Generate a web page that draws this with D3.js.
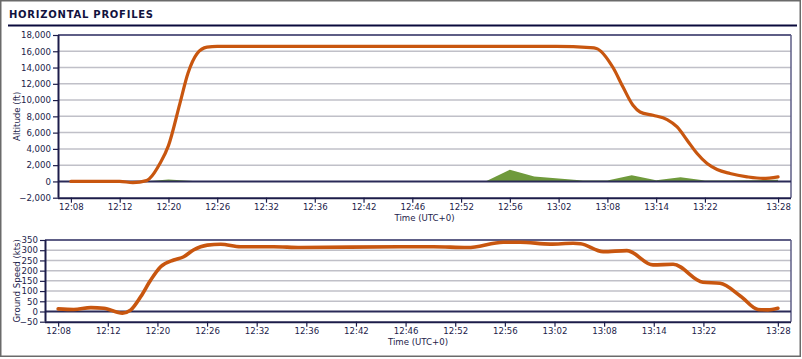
<!DOCTYPE html>
<html><head><meta charset="utf-8">
<script src="https://cdn.jsdelivr.net/npm/d3@7"></script>
<style>
html,body{margin:0;padding:0;background:#fff;}
svg{display:block;font-family:"DejaVu Sans",Verdana,sans-serif;}
</style></head>
<body><svg id="c" width="802" height="359"></svg>
<script>
// x positions are sample indices along the time axis (labels every 2 samples, last after 3)
const timeLabels = ["12:08","12:12","12:20","12:26","12:32","12:36","12:42","12:46","12:52","12:56","13:02","13:08","13:14","13:22","13:28"];
const tickIndex = [0,2,4,6,8,10,12,14,16,18,20,22,24,26,29];

const altIndex  = [0,2,2.54,3.1,3.24,3.65,4,4.47,4.8,5.17,5.58,6,19.9,21.3,21.55,22.23,22.64,23.05,23.34,23.87,24.45,24.86,25.27,25.68,26.09,26.5,27.03,27.73,28.38,29];
const altValues = [0,0,-150,100,400,2200,4400,9600,13300,15700,16500,16600,16600,16450,16350,14000,11600,9360,8540,8130,7600,6700,5070,3430,2200,1470,980,570,370,560];

const terrainIndex  = [0,3,4,5,6,17,18,19,20,21,22,23,24,25,26,27,28,29];
const terrainValues = [0,0,250,50,0,0,1450,600,350,100,100,750,150,500,100,100,150,200];

const spdIndex  = [0,0.63,1.32,1.84,2.59,2.93,3.33,3.73,4.13,4.66,5.06,5.45,6.01,6.55,7.35,8.68,9.77,13.79,15.12,16.49,17.94,18.62,19.83,20.75,21.05,21.96,22.92,23.97,24.78,25.98,26.67,27.5,28.2,28.6,29];
const spdValues = [13,10,19,16,-8,8,73,154,219,252,268,301,325,329,317,317,313,317,317,313,339,339,330,334,332,293,298,228,231,143,138,75,10,8,16];

const altTicks = [-2000,0,2000,4000,6000,8000,10000,12000,14000,16000,18000];
const spdTicks = [-50,0,50,100,150,200,250,300,350];

const svg = d3.select("#c");
const navy = "#1c1c4a", frameCol = "#5e5e86", gridCol = "#c0c0c8", lineCol = "#c8560f", green = "#6f9a3c";

svg.append("rect").attr("x",0.75).attr("y",0.75).attr("width",799.5).attr("height",355.5)
  .attr("fill","#fff").attr("stroke","#6a6a6a").attr("stroke-width",1.5);
svg.append("text").attr("x",9).attr("y",17.5).attr("font-size",10).attr("font-weight","bold")
  .attr("letter-spacing",0.75).attr("fill","#12123e").text("HORIZONTAL PROFILES");
svg.append("line").attr("x1",8).attr("x2",797).attr("y1",25.5).attr("y2",25.5)
  .attr("stroke","#0a0a3c").attr("stroke-width",2.2);

function panel(o){
  const x = d3.scaleLinear().domain([-0.53,29.53]).range([o.left,o.right]);
  const y = d3.scaleLinear().domain(o.domain).range([o.bottom,o.top]);
  const g = svg.append("g");
  g.selectAll(".grid").data(o.ticks.filter(t=>t!==o.domain[0] && t!==o.domain[1] && t!==0)).join("line")
    .attr("x1",o.left).attr("x2",o.right).attr("y1",d=>y(d)).attr("y2",d=>y(d))
    .attr("stroke",gridCol).attr("stroke-width",1.5);
  if(o.areaIdx){
    const pts = o.areaIdx.map((d,i)=>[d,o.areaVals[i]]);
    const area = d3.area().x(d=>x(d[0])).y0(y(0)).y1(d=>y(d[1]));
    g.append("path").datum(pts).attr("d",area).attr("fill",green);
  }
  g.append("line").attr("x1",o.left).attr("x2",o.right).attr("y1",o.top).attr("y2",o.top).attr("stroke",frameCol).attr("stroke-width",2);
  g.append("line").attr("x1",o.right).attr("x2",o.right).attr("y1",o.top).attr("y2",o.bottom).attr("stroke",frameCol).attr("stroke-width",1.5);
  g.append("line").attr("x1",o.left).attr("x2",o.right).attr("y1",y(0)).attr("y2",y(0)).attr("stroke","#2a2a58").attr("stroke-width",2);
  const ya = d3.axisLeft(y).tickValues(o.ticks).tickSize(5).tickPadding(2).tickFormat(d3.format(","));
  const yg = g.append("g").attr("transform",`translate(${o.left},0)`).call(ya);
  const xa = d3.axisBottom(x).tickValues(tickIndex).tickSize(5).tickPadding(1.5).tickFormat((d,i)=>timeLabels[i]);
  const xg = g.append("g").attr("transform",`translate(0,${o.bottom})`).call(xa);
  [yg,xg].forEach(a=>{
    a.select(".domain").attr("stroke",navy).attr("stroke-width",2);
    a.selectAll(".tick line").attr("stroke",navy).attr("stroke-width",1.2);
    a.selectAll("text").attr("fill",navy).attr("font-size",8.6).attr("font-family","DejaVu Sans, Verdana, sans-serif");
  });
  xg.select(".domain").attr("d",`M${o.left},0.5H${o.right}`);
  yg.select(".domain").attr("d",`M0.5,${o.top}V${o.bottom}`);
  const pts = o.idx.map((d,i)=>[d,o.vals[i]]);
  const line = d3.line().x(d=>x(d[0])).y(d=>y(d[1])).curve(d3.curveMonotoneX);
  g.append("path").datum(pts).attr("d",line).attr("fill","none").attr("stroke",lineCol)
    .attr("stroke-width",o.sw).attr("stroke-linejoin","round").attr("stroke-linecap","round");
  g.append("text").attr("transform",`translate(${o.ytx},${(o.top+o.bottom)/2}) rotate(-90)`)
    .attr("text-anchor","middle").attr("font-size",8.6).attr("fill",navy).text(o.ytitle);
  g.append("text").attr("x",(o.left+o.right)/2).attr("y",o.xty).attr("text-anchor","middle")
    .attr("font-size",8.6).attr("fill",navy).text("Time (UTC+0)");
}

panel({left:58,right:791,top:35,bottom:197.7,domain:[-2000,18000],ticks:altTicks,
  idx:altIndex,vals:altValues,areaIdx:terrainIndex,areaVals:terrainValues,sw:3.2,
  ytitle:"Altitude (ft)",ytx:20,xty:220.5});
panel({left:45,right:791,top:240,bottom:321.7,domain:[-50,350],ticks:spdTicks,
  idx:spdIndex,vals:spdValues,sw:3.6,ytitle:"Ground Speed (kts)",ytx:20,xty:345});
</script></body></html>
